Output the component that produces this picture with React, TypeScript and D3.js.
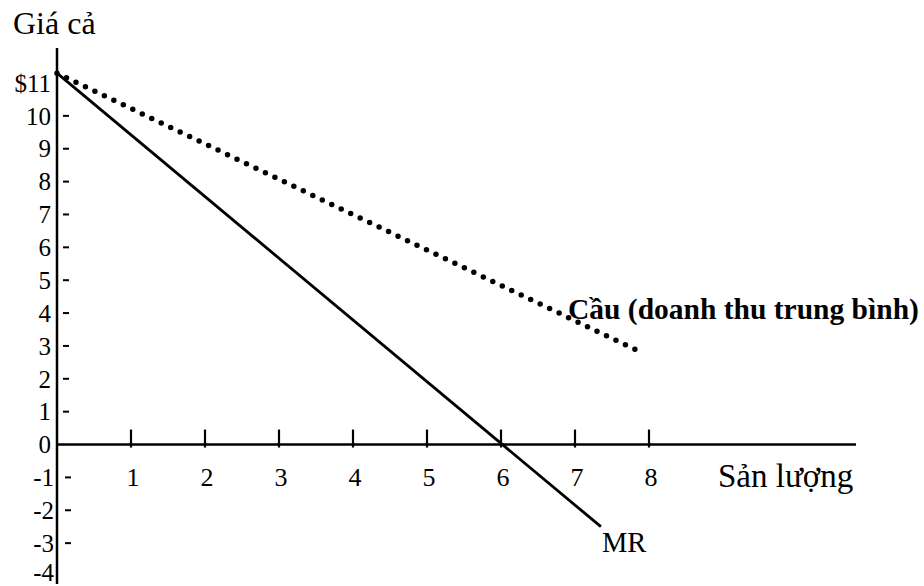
import React from "react";
import * as d3 from "d3";

const yTickValues = [11, 10, 9, 8, 7, 6, 5, 4, 3, 2, 1, 0, -1, -2, -3, -4];
const yTickLabels = ["$11", "10", "9", "8", "7", "6", "5", "4", "3", "2", "1", "0", "-1", "-2", "-3", "-4"];
const yDashValues = [10, 9, 8, 7, 6, 5, 4, 3, 2, 1, -1, -2, -3];
const xTickValues = [1, 2, 3, 4, 5, 6, 7, 8];
const xTickLabels = ["1", "2", "3", "4", "5", "6", "7", "8"];
const demandQ = [0, 7.88];
const demandP = [11.3, 2.82];
const mrQ = [0, 7.35];
const mrP = [11.3, -2.5];

const W = 924;
const H = 586;
const FONT = "'Liberation Serif', 'Times New Roman', serif";

export default function App() {
  const x = d3.scaleLinear().domain([0, 8]).range([57, 649]);
  const y = d3.scaleLinear().domain([-4, 11]).range([576, 83]);
  const line = d3
    .line<[number, number]>()
    .x((d) => x(d[0]))
    .y((d) => y(d[1]));
  const demand = demandQ.map((q, i) => [q, demandP[i]] as [number, number]);
  const mr = mrQ.map((q, i) => [q, mrP[i]] as [number, number]);
  const x0 = x(0);
  const y0 = y(0);

  return (
    <svg
      width={W}
      height={H}
      viewBox={`0 0 ${W} ${H}`}
      style={{ position: "absolute", left: 0, top: 0, background: "#fff" }}
    >
      <rect width={W} height={H} fill="#fff" />
      {/* axes */}
      <line x1={x0} y1={48} x2={x0} y2={584} stroke="#000" strokeWidth={2.5} />
      <line x1={x0} y1={y0} x2={856} y2={y0} stroke="#000" strokeWidth={2.5} />
      {/* y ticks */}
      {yDashValues.map((v) => (
        <line
          key={"yd" + v}
          x1={v < 0 ? 65 : 63}
          x2={v < 0 ? 71 : 69}
          y1={y(v)}
          y2={y(v)}
          stroke="#000"
          strokeWidth={2}
        />
      ))}
      {yTickValues.map((v, i) => (
        <text
          key={"yl" + v}
          x={v < 0 ? 54 : 51}
          y={v === -4 ? y(v) - 4 : y(v)}
          dy="0.35em"
          textAnchor="end"
          fontFamily={FONT}
          fontSize={25}
          fill="#000"
        >
          {yTickLabels[i]}
        </text>
      ))}
      {/* x ticks */}
      {xTickValues.map((v, i) => (
        <g key={"xt" + v}>
          <line x1={x(v)} x2={x(v)} y1={y0 - 15} y2={y0 + 3} stroke="#000" strokeWidth={2.2} />
          <text
            x={x(v) + 2}
            y={477}
            dy="0.35em"
            textAnchor="middle"
            fontFamily={FONT}
            fontSize={26}
            fill="#000"
          >
            {xTickLabels[i]}
          </text>
        </g>
      ))}
      {/* curves */}
      <path d={line(mr) || ""} fill="none" stroke="#000" strokeWidth={2.8} />
      <path
        d={line(demand) || ""}
        fill="none"
        stroke="#000"
        strokeWidth={5.5}
        strokeLinecap="round"
        strokeDasharray="0 10.5"
      />
      {/* labels */}
      <text x={13} y={34} fontFamily={FONT} fontSize={32} fill="#000">
        Giá cả
      </text>
      <text x={568} y={319} fontFamily={FONT} fontSize={29.5} fontWeight="bold" fill="#000">
        Cầu (doanh thu trung bình)
      </text>
      <text x={718} y={487} fontFamily={FONT} fontSize={33} fill="#000">
        Sản lượng
      </text>
      <text x={602} y={552} fontFamily={FONT} fontSize={28.5} fill="#000">
        MR
      </text>
    </svg>
  );
}
